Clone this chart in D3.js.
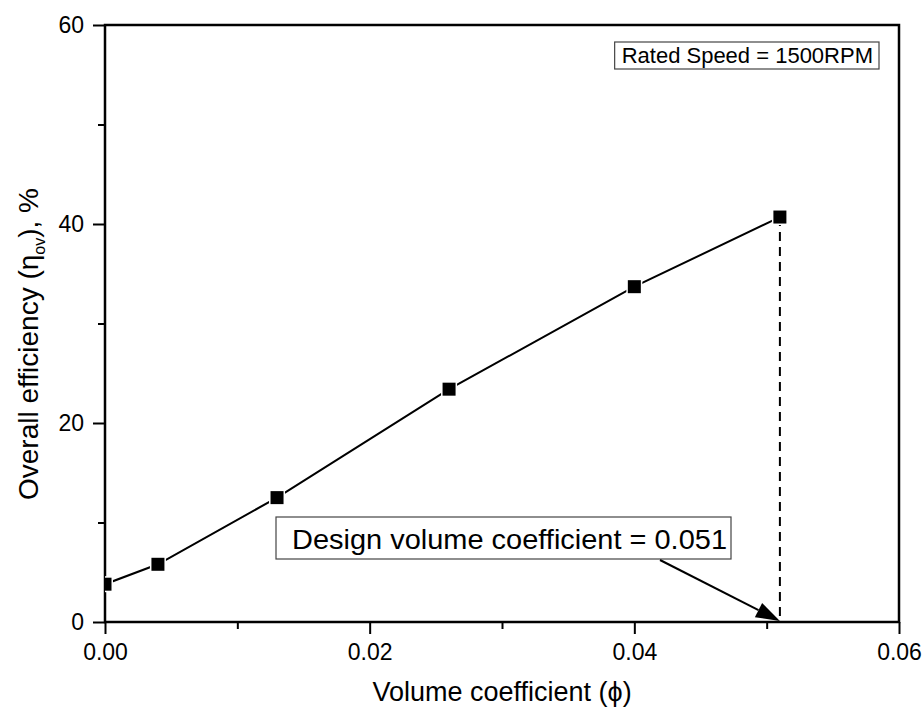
<!DOCTYPE html>
<html>
<head>
<meta charset="utf-8">
<script src="https://cdn.jsdelivr.net/npm/d3@7/dist/d3.min.js"></script>
<style>
  html, body { margin: 0; padding: 0; background: #fff; }
  svg { display: block; font-family: Arial, "Liberation Sans", sans-serif; }
</style>
</head>
<body>
<svg id="chart" width="924" height="716"></svg>
<script>
// ---- data ----
const volumeCoeff = [0, 0.004, 0.013, 0.026, 0.040, 0.051];
const efficiency  = [3.8, 5.8, 12.5, 23.4, 33.7, 40.7];
const xTickValues = [0, 0.02, 0.04, 0.06];
const xTickLabels = ["0.00", "0.02", "0.04", "0.06"];
const xMinorTicks = [0.01, 0.03, 0.05];
const yTickValues = [0, 20, 40, 60];
const yTickLabels = ["0", "20", "40", "60"];
const yMinorTicks = [10, 30, 50];
const designCoeff = 0.051;
const designLabel = "Design volume coefficient = 0.051";
const speedLabel = "Rated Speed = 1500RPM";

// ---- layout ----
const W = 924, H = 716;
const margin = {left: 105, top: 25, right: 25, bottom: 94};
const svg = d3.select("#chart");
const x = d3.scaleLinear().domain([0, 0.06]).range([margin.left, W - margin.right]);
const y = d3.scaleLinear().domain([0, 60]).range([H - margin.bottom, margin.top]);

svg.append("defs").append("clipPath").attr("id", "plotclip")
  .append("rect")
  .attr("x", x(0)).attr("y", y(60))
  .attr("width", x(0.06) - x(0)).attr("height", y(0) - y(60));

// minor ticks
svg.append("g").attr("transform", `translate(0,${y(0)})`)
  .call(d3.axisBottom(x).tickValues(xMinorTicks).tickSize(7).tickFormat(""))
  .call(g => g.select(".domain").remove())
  .selectAll("line").attr("stroke", "#000").attr("stroke-width", 2);
svg.append("g").attr("transform", `translate(${x(0)},0)`)
  .call(d3.axisLeft(y).tickValues(yMinorTicks).tickSize(7).tickFormat(""))
  .call(g => g.select(".domain").remove())
  .selectAll("line").attr("stroke", "#000").attr("stroke-width", 2);

// major axes
const xAxis = svg.append("g").attr("transform", `translate(0,${y(0)})`)
  .call(d3.axisBottom(x).tickValues(xTickValues).tickSize(12).tickPadding(10)
        .tickFormat((d, i) => xTickLabels[i]));
xAxis.select(".domain").remove();
xAxis.selectAll("line").attr("stroke", "#000").attr("stroke-width", 2);
xAxis.selectAll("text").attr("font-size", 23).attr("fill", "#000")
  .attr("font-family", "Arial, 'Liberation Sans', sans-serif");

const yAxis = svg.append("g").attr("transform", `translate(${x(0)},0)`)
  .call(d3.axisLeft(y).tickValues(yTickValues).tickSize(12).tickPadding(9)
        .tickFormat((d, i) => yTickLabels[i]));
yAxis.select(".domain").remove();
yAxis.selectAll("line").attr("stroke", "#000").attr("stroke-width", 2);
yAxis.selectAll("text").attr("font-size", 23).attr("fill", "#000")
  .attr("font-family", "Arial, 'Liberation Sans', sans-serif");

// frame
svg.append("rect")
  .attr("x", x(0)).attr("y", y(60))
  .attr("width", x(0.06) - x(0)).attr("height", y(0) - y(60))
  .attr("fill", "none").attr("stroke", "#000").attr("stroke-width", 2.5);

// dashed design line
const lastIdx = volumeCoeff.length - 1;
svg.append("line")
  .attr("x1", x(designCoeff)).attr("x2", x(designCoeff))
  .attr("y1", y(efficiency[lastIdx])).attr("y2", y(0))
  .attr("stroke", "#000").attr("stroke-width", 2).attr("stroke-dasharray", "9,6");

// data line + markers
const pts = volumeCoeff.map((v, i) => [v, efficiency[i]]);
const plot = svg.append("g").attr("clip-path", "url(#plotclip)");
plot.append("path")
  .datum(pts)
  .attr("d", d3.line().x(d => x(d[0])).y(d => y(d[1])))
  .attr("fill", "none").attr("stroke", "#000").attr("stroke-width", 2);
const ms = 13;
plot.selectAll("rect.m").data(pts).join("rect")
  .attr("class", "m")
  .attr("x", d => x(d[0]) - ms / 2).attr("y", d => y(d[1]) - ms / 2)
  .attr("width", ms).attr("height", ms)
  .attr("fill", "#000").attr("stroke", "#fff").attr("stroke-width", 3)
  .attr("paint-order", "stroke");

// Rated speed box
const sp = svg.append("g");
const spText = sp.append("text")
  .attr("x", 873).attr("y", 63)
  .attr("text-anchor", "end")
  .attr("font-size", 22).attr("fill", "#000")
  .text(speedLabel);
const sb = spText.node().getBBox();
sp.insert("rect", "text")
  .attr("x", sb.x - 7).attr("y", 42)
  .attr("width", sb.width + 13).attr("height", 27)
  .attr("fill", "#fff").attr("stroke", "#444").attr("stroke-width", 1.2);

// Design annotation box + arrow
const dg = svg.append("g");
dg.append("rect")
  .attr("x", 276).attr("y", 517).attr("width", 455).attr("height", 42)
  .attr("fill", "#fff").attr("stroke", "#444").attr("stroke-width", 1.2);
dg.append("text")
  .attr("x", 292).attr("y", 549)
  .attr("font-size", 28).attr("fill", "#000")
  .attr("textLength", 435).attr("lengthAdjust", "spacingAndGlyphs")
  .text(designLabel);

const ax0 = 660, ay0 = 560, ax1 = x(designCoeff), ay1 = y(0) - 1;
const ang = Math.atan2(ay1 - ay0, ax1 - ax0);
const hl = 24, hw = 8;
const bx = ax1 - hl * Math.cos(ang), by = ay1 - hl * Math.sin(ang);
dg.append("line")
  .attr("x1", ax0).attr("y1", ay0).attr("x2", bx).attr("y2", by)
  .attr("stroke", "#000").attr("stroke-width", 2);
dg.append("path")
  .attr("d", `M${ax1},${ay1}L${bx + hw * Math.sin(ang)},${by - hw * Math.cos(ang)}L${bx - hw * Math.sin(ang)},${by + hw * Math.cos(ang)}Z`)
  .attr("fill", "#000");

// axis titles
svg.append("text")
  .attr("x", (x(0) + x(0.06)) / 2).attr("y", 701)
  .attr("text-anchor", "middle").attr("font-size", 27).attr("fill", "#000")
  .text("Volume coefficient (ϕ)");

const yt = svg.append("text")
  .attr("transform", `translate(38,344) rotate(-90)`)
  .attr("text-anchor", "middle").attr("font-size", 28).attr("fill", "#000");
yt.append("tspan").text("Overall efficiency (η");
yt.append("tspan").attr("font-size", 16).attr("dy", 7).text("ov");
yt.append("tspan").attr("dy", -7).text("), %");
</script>
</body>
</html>
